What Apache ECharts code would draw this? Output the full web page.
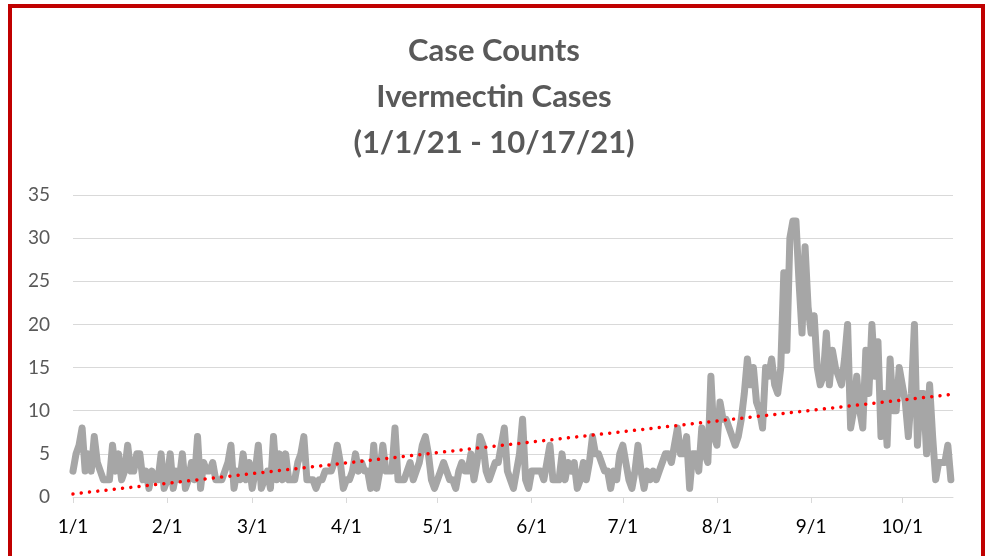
<!DOCTYPE html>
<html>
<head>
<meta charset="utf-8">
<script src="https://cdn.jsdelivr.net/npm/echarts@6/dist/echarts.min.js"></script>
<style>
  html, body { margin: 0; padding: 0; background: #fff; }
  #frame {
    position: absolute; left: 8px; top: 4px; width: 969px; height: 600px;
    border: 4px solid #c00000;
  }
  #chart { position: absolute; left: 0; top: 0; width: 988px; height: 556px; }
</style>
</head>
<body>
<div id="frame"></div>
<div id="chart"></div>
<script>
// daily case counts, 1/1/21 - 10/17/21
const jan = [3,5,6,8,3,5,3,7,4,3,2,2,2,6,3,5,2,3,6,3,3,5,5,2,3,1,3,2,2,5,1];
const feb = [2,5,1,3,2,5,1,2,4,2,7,1,4,3,3,4,2,2,2,3,4,6,1,3,2,5,2,4];
const mar = [1,3,6,1,2,3,1,7,2,5,2,5,2,2,2,4,5,7,2,2,2,1,2,2,3,3,3,4,6,4,1];
const apr = [2,2,3,5,3,4,3,3,1,6,1,3,6,3,3,3,8,2,2,2,3,4,2,3,4,6,7,5,2,1];
const may = [2,3,4,3,2,2,1,3,4,3,3,5,2,4,7,6,3,2,3,4,4,6,8,3,2,1,3,5,9,2,1];
const jun = [3,3,3,3,2,4,6,2,2,2,5,2,4,3,4,1,2,4,2,4,7,5,5,4,3,3,1,3,2,5];
const jul = [6,4,2,1,3,6,3,1,3,2,3,2,3,4,5,5,4,6,8,5,5,7,1,5,5,3,8,5,4,14,7];
const aug = [6,11,9,9,8,7,6,7,9,12,16,13,15,11,10,8,15,14,16,13,12,15,26,17,30,32,32,25,19,29,22];
const sep = [19,21,15,13,14,19,13,17,15,14,13,16,20,8,10,14,10,8,17,12,20,14,18,7,12,6,16,10,10,15];
const oct = [13,11,7,12,20,6,12,12,5,13,7,2,4,4,4,6,2];

const counts = [].concat(jan, feb, mar, apr, may, jun, jul, aug, sep, oct);

// x axis labels at the first day of each month (day index from 1/1)
const monthStarts = [0, 31, 59, 90, 120, 151, 181, 212, 243, 273];
const monthLabels = ['1/1','2/1','3/1','4/1','5/1','6/1','7/1','8/1','9/1','10/1'];

// linear trendline (least squares)
const n = counts.length;
let sx = 0, sy = 0, sxy = 0, sxx = 0;
counts.forEach((v, i) => { sx += i; sy += v; sxy += i * v; sxx += i * i; });
const slope = (n * sxy - sx * sy) / (n * sxx - sx * sx);
const icpt = (sy - slope * sx) / n;
const trend = [[0, icpt], [n - 1, icpt + slope * (n - 1)]];

const chart = echarts.init(document.getElementById('chart'));
chart.setOption({
  animation: false,
  title: {
    text: 'Case Counts\nIvermectin Cases\n(1/1/21 - 10/17/21)',
    left: 'center',
    top: 23,
    textStyle: {
      fontFamily: 'Lato',
      fontWeight: 'bold',
      fontSize: 31,
      lineHeight: 46,
      color: '#595959'
    }
  },
  grid: { left: 73, right: 35, top: 195, bottom: 59 },
  xAxis: {
    type: 'value',
    min: 0,
    max: 289.7,
    splitLine: { show: false },
    axisLine: { lineStyle: { color: '#d9d9d9', width: 1 } },
    axisTick: {
      customValues: monthStarts,
      length: 6,
      lineStyle: { color: '#d9d9d9' }
    },
    axisLabel: {
      customValues: monthStarts,
      formatter: v => monthLabels[monthStarts.indexOf(Math.round(v))],
      fontFamily: 'Lato',
      fontSize: 19,
      color: '#000000',
      margin: 20
    }
  },
  yAxis: {
    type: 'value',
    min: 0,
    max: 35,
    interval: 5,
    axisLine: { show: false },
    axisTick: { show: false },
    splitLine: { lineStyle: { color: '#d9d9d9', width: 1 } },
    axisLabel: {
      fontFamily: 'Lato',
      fontSize: 19,
      color: '#595959',
      margin: 23
    }
  },
  series: [
    {
      type: 'line',
      data: counts.map((v, i) => [i, v]),
      showSymbol: false,
      lineStyle: { color: '#a6a6a6', width: 7, join: 'round', cap: 'round' }
    },
    {
      type: 'line',
      data: trend,
      showSymbol: false,
      z: 3,
      lineStyle: { color: '#ff0000', width: 3.5, type: [0.01, 8.3], cap: 'round' }
    }
  ]
});
</script>
</body>
</html>
